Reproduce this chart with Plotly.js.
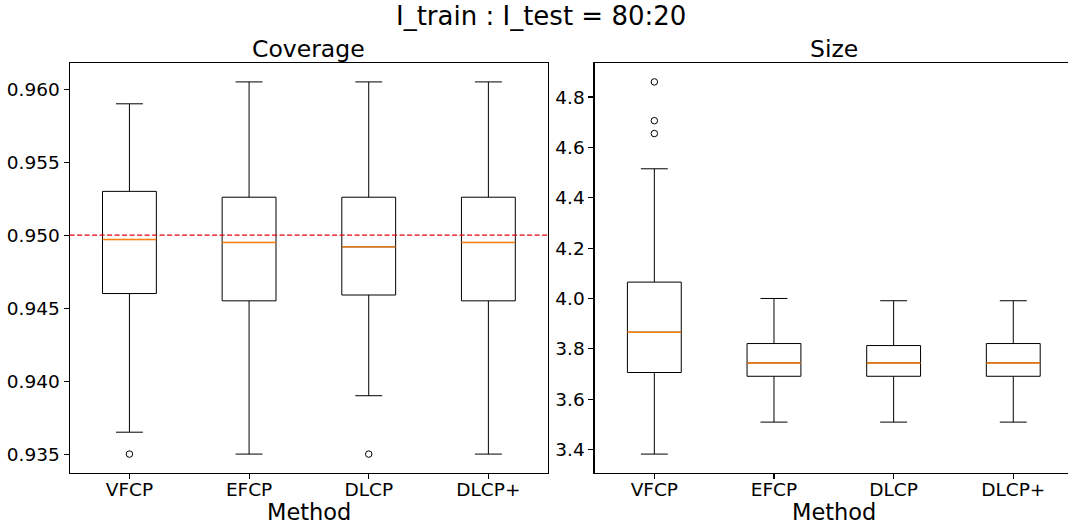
<!DOCTYPE html>
<html><head><meta charset="utf-8">
<script src="https://cdn.plot.ly/plotly-3.0.1.min.js"></script>
<style>html,body{margin:0;padding:0;background:#fff}#chart{width:1068px;height:526px}</style>
</head><body><div id="chart"></div>
<script>
// ---- data ----
const methods = ["VFCP", "EFCP", "DLCP", "DLCP+"];
const positions = [1, 2, 3, 4];

const covLower  = [0.9365, 0.9350, 0.9390, 0.9350];
const covQ1     = [0.9460, 0.9455, 0.9459, 0.9455];
const covMedian = [0.9497, 0.9495, 0.9492, 0.9495];
const covQ3     = [0.9530, 0.9526, 0.9526, 0.9526];
const covUpper  = [0.9590, 0.9605, 0.9605, 0.9605];
const covOutlierPos = [1, 3];
const covOutliers   = [0.935, 0.935];
const covTarget = 0.95;
const covTicks = [0.935, 0.940, 0.945, 0.950, 0.955, 0.960];

const sizeLower  = [3.382, 3.509, 3.509, 3.509];
const sizeQ1     = [3.706, 3.691, 3.691, 3.691];
const sizeMedian = [3.866, 3.744, 3.744, 3.744];
const sizeQ3     = [4.065, 3.821, 3.813, 3.821];
const sizeUpper  = [4.515, 4.000, 3.991, 3.991];
const sizeOutlierPos = [1, 1, 1];
const sizeOutliers   = [4.655, 4.706, 4.860];
const sizeTicks = [3.4, 3.6, 3.8, 4.0, 4.2, 4.4, 4.6, 4.8];

// ---- helpers ----
const FONT = "DejaVu Sans, Verdana, sans-serif";
const BOXW = 0.45;

function autoRange(arrs) {
  const all = [].concat(...arrs);
  const mn = Math.min(...all), mx = Math.max(...all);
  const pad = (mx - mn) * 0.05;
  return [mn - pad, mx + pad];
}

function boxTraces(lo, q1, med, q3, up, oPos, oVal, xa, ya) {
  const box = {
    type: 'box', x: positions, q1: q1, median: med, q3: q3,
    lowerfence: lo, upperfence: up, width: BOXW, whiskerwidth: 0.5,
    boxpoints: false, line: {color: 'black', width: 1},
    fillcolor: 'rgba(0,0,0,0)', xaxis: xa, yaxis: ya,
    showlegend: false, hoverinfo: 'skip'
  };
  const mx = [], my = [];
  positions.forEach((p, i) => {
    mx.push(p - BOXW / 2, p + BOXW / 2, null);
    my.push(med[i], med[i], null);
  });
  const medians = {
    type: 'scatter', mode: 'lines', x: mx, y: my,
    line: {color: '#ff7f0e', width: 1.4}, xaxis: xa, yaxis: ya,
    showlegend: false, hoverinfo: 'skip'
  };
  const fliers = {
    type: 'scatter', mode: 'markers', x: oPos, y: oVal,
    marker: {symbol: 'circle-open', size: 6.5, color: 'black', line: {width: 1, color: 'black'}},
    xaxis: xa, yaxis: ya, showlegend: false, hoverinfo: 'skip'
  };
  return [box, medians, fliers];
}

const W = 1068, H = 526;
const leftDom = [69.6 / W, 548.2 / W];
const rightDom = [594.5 / W, 1];
const yDom = [(H - 472.7) / H, (H - 63.3) / H];
const pxPerUnit = (leftDom[1] - leftDom[0]) * W / 4;
const rightRange = [0.5, 0.5 + (rightDom[1] - rightDom[0]) * W / pxPerUnit];

const axisStyle = {
  showline: true, linecolor: 'black', linewidth: 1.1,
  ticks: 'outside', ticklen: 5, tickwidth: 1.1, tickcolor: 'black',
  showgrid: false, zeroline: false,
  tickfont: {family: FONT, size: 18.5, color: 'black'}
};

const data = [].concat(
  boxTraces(covLower, covQ1, covMedian, covQ3, covUpper, covOutlierPos, covOutliers, 'x', 'y'),
  boxTraces(sizeLower, sizeQ1, sizeMedian, sizeQ3, sizeUpper, sizeOutlierPos, sizeOutliers, 'x2', 'y2')
);

const layout = {
  width: W, height: H,
  margin: {l: 0, r: 0, t: 0, b: 0},
  paper_bgcolor: 'white', plot_bgcolor: 'white',
  font: {family: FONT, color: 'black'},
  showlegend: false,
  xaxis: Object.assign({}, axisStyle, {
    domain: leftDom, range: [0.5, 4.5], anchor: 'y', mirror: true, ticklabelstandoff: -5,
    tickmode: 'array', tickvals: positions, ticktext: methods
  }),
  yaxis: Object.assign({}, axisStyle, {
    domain: yDom, range: autoRange([covLower, covUpper, covOutliers]), anchor: 'x', mirror: true,
    tickmode: 'array', tickvals: covTicks, ticktext: covTicks.map(v => v.toFixed(3))
  }),
  xaxis2: Object.assign({}, axisStyle, {
    domain: rightDom, range: rightRange, anchor: 'y2', mirror: true, ticklabelstandoff: -5,
    tickmode: 'array', tickvals: positions, ticktext: methods
  }),
  yaxis2: Object.assign({}, axisStyle, {
    domain: yDom, range: autoRange([sizeLower, sizeUpper, sizeOutliers]), anchor: 'x2', mirror: false,
    tickmode: 'array', tickvals: sizeTicks, ticktext: sizeTicks.map(v => v.toFixed(1))
  }),
  shapes: [{
    type: 'line', xref: 'x domain', yref: 'y', x0: 0, x1: 1, y0: covTarget, y1: covTarget,
    line: {color: '#e8000b', width: 1.4, dash: '5px,2.5px'}
  }],
  annotations: [
    {text: 'I_train : I_test = 80:20', xref: 'paper', yref: 'paper', x: 541 / W, y: 1 - 16.5 / H,
     xanchor: 'center', yanchor: 'middle', showarrow: false, font: {family: FONT, size: 26, color: 'black'}},
    {text: 'Coverage', xref: 'paper', yref: 'paper', x: 308.9 / W, y: 1 - 49 / H,
     xanchor: 'center', yanchor: 'middle', showarrow: false, font: {family: FONT, size: 23.5, color: 'black'}},
    {text: 'Size', xref: 'paper', yref: 'paper', x: 833.5 / W, y: 1 - 49 / H,
     xanchor: 'center', yanchor: 'middle', showarrow: false, font: {family: FONT, size: 23.5, color: 'black'}},
    {text: 'Method', xref: 'paper', yref: 'paper', x: 308.9 / W, y: 1 - 512 / H,
     xanchor: 'center', yanchor: 'middle', showarrow: false, font: {family: FONT, size: 22.5, color: 'black'}},
    {text: 'Method', xref: 'paper', yref: 'paper', x: 833.5 / W, y: 1 - 512 / H,
     xanchor: 'center', yanchor: 'middle', showarrow: false, font: {family: FONT, size: 22.5, color: 'black'}}
  ]
};

Plotly.newPlot('chart', data, layout, {staticPlot: true, displayModeBar: false});
</script>
</body></html>
